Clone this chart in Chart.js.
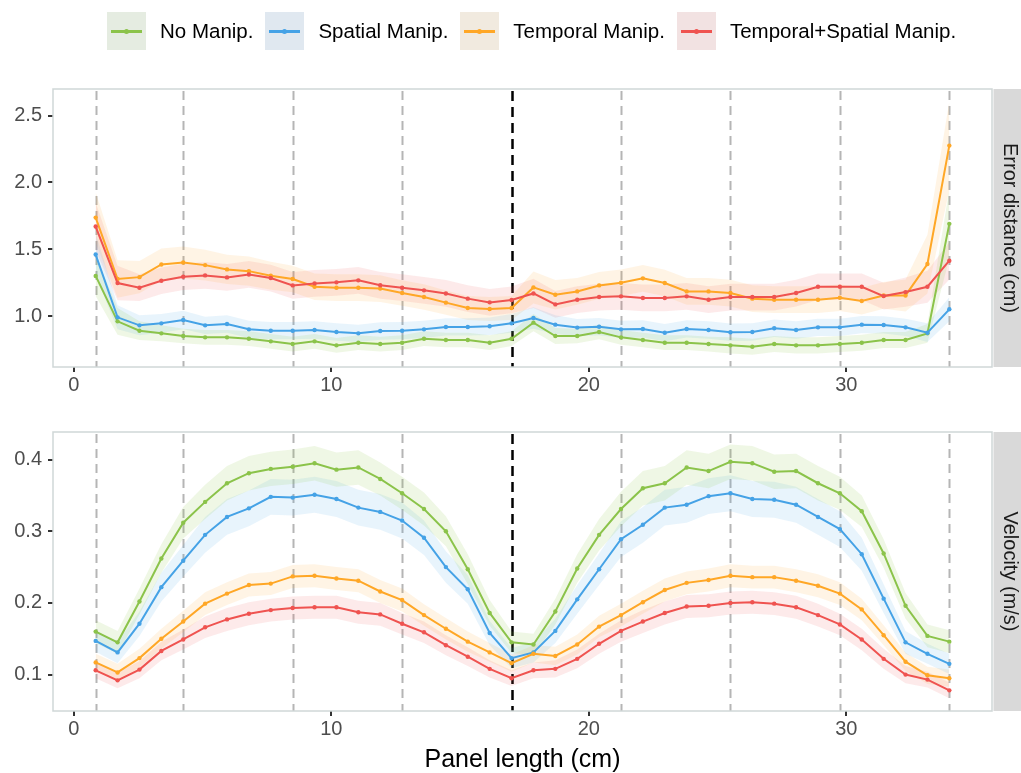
<!DOCTYPE html>
<html>
<head>
<meta charset="utf-8">
<script src="https://cdn.jsdelivr.net/npm/chart.js@4.4.1/dist/chart.umd.min.js"></script>
<style>
  body { margin: 0; background: #fff; }
  #wrap { position: relative; width: 1021px; height: 773px; overflow: hidden; background: #fff;
          font-family: "Liberation Sans", Arial, sans-serif; }
  #c1 { position: absolute; left: 0; top: 0; }
  #c2 { position: absolute; left: 0; top: 400px; }
  #legend { position: absolute; left: 107px; top: 12px; height: 38px; display: flex; align-items: center; }
  .item { display: flex; align-items: center; margin-right: 12px; }
  .key { position: relative; width: 39px; height: 38px; margin-right: 14px; }
  .key .ln { position: absolute; left: 4px; right: 4px; top: 18px; height: 2.5px; }
  .key .dot { position: absolute; left: 17px; top: 17px; width: 5px; height: 5px; border-radius: 50%; }
  .lab { font-size: 20.5px; color: #000; white-space: nowrap; }
</style>
</head>
<body>
<div id="wrap">
  <canvas id="c1" width="1021" height="400"></canvas>
  <canvas id="c2" width="1021" height="373"></canvas>
  <div id="legend"></div>
</div>
<script>
// Sampling positions along the panel (cm)
const positions = [0.85, 1.70, 2.55, 3.40, 4.25, 5.10, 5.95, 6.80, 7.65, 8.50,
                   9.35, 10.20, 11.05, 11.90, 12.75, 13.60, 14.45, 15.30, 16.15, 17.00,
                   17.85, 18.70, 19.55, 20.40, 21.25, 22.10, 22.95, 23.80, 24.65, 25.50,
                   26.35, 27.20, 28.05, 28.90, 29.75, 30.60, 31.45, 32.30, 33.15, 34.00];

const conditions = ["No Manip.", "Spatial Manip.", "Temporal Manip.", "Temporal+Spatial Manip."];
const lineColors = ["#8BC34A", "#45A2E6", "#FFA726", "#EF5350"];
const bandColors = ["rgba(139,195,74,0.14)", "rgba(69,162,230,0.12)", "rgba(255,167,38,0.12)", "rgba(239,83,80,0.12)"];
const keyColors  = ["#e5ece1", "#e0e8f0", "#f1eadf", "#f2e2e2"];

const facetLabels = ["Error distance (cm)", "Velocity (m/s)"];
const xAxisTitle = "Panel length (cm)";
const xTickValues = [0, 10, 20, 30];
const errTickValues = [1.0, 1.5, 2.0, 2.5];
const velTickValues = [0.1, 0.2, 0.3, 0.4];
const guideMarks = [0.85, 4.25, 8.5, 12.75, 21.25, 25.5, 29.75, 34.0];
const midMark = [17.0];

// Error distance (cm), mean per position
const errNoManip = [1.30, 0.96, 0.89, 0.87, 0.85, 0.84, 0.84, 0.83, 0.81, 0.79,
                    0.81, 0.78, 0.80, 0.79, 0.80, 0.83, 0.82, 0.82, 0.80, 0.83,
                    0.95, 0.85, 0.85, 0.88, 0.84, 0.82, 0.80, 0.80, 0.79, 0.78,
                    0.77, 0.79, 0.78, 0.78, 0.79, 0.80, 0.82, 0.82, 0.87, 1.69];
const errSpatial = [1.46, 0.99, 0.93, 0.945, 0.97, 0.93, 0.94, 0.90, 0.89, 0.89,
                    0.895, 0.88, 0.87, 0.888, 0.89, 0.90, 0.918, 0.918, 0.923, 0.945,
                    0.985, 0.935, 0.913, 0.92, 0.90, 0.903, 0.875, 0.903, 0.895, 0.878,
                    0.88, 0.908, 0.895, 0.915, 0.915, 0.935, 0.933, 0.915, 0.875, 1.05];
const errTemporal = [1.737, 1.277, 1.291, 1.386, 1.401, 1.381, 1.349, 1.336, 1.301, 1.277,
                     1.219, 1.212, 1.212, 1.205, 1.172, 1.142, 1.100, 1.060, 1.052, 1.060,
                     1.214, 1.159, 1.184, 1.229, 1.249, 1.282, 1.247, 1.184, 1.184, 1.172,
                     1.130, 1.122, 1.122, 1.122, 1.137, 1.112, 1.154, 1.154, 1.389, 2.276];
const errBoth = [1.670, 1.247, 1.212, 1.264, 1.294, 1.304, 1.289, 1.311, 1.284, 1.229,
                 1.244, 1.252, 1.267, 1.230, 1.212, 1.192, 1.169, 1.130, 1.102, 1.120,
                 1.169, 1.087, 1.122, 1.142, 1.147, 1.135, 1.135, 1.147, 1.122, 1.142,
                 1.142, 1.142, 1.172, 1.219, 1.219, 1.219, 1.149, 1.179, 1.219, 1.414];

// Error distance, half-width of the confidence band
const errNoManipCI = [0.15, 0.10, 0.07, 0.06, 0.055, 0.055, 0.055, 0.055, 0.055, 0.055,
                      0.055, 0.055, 0.055, 0.055, 0.055, 0.055, 0.055, 0.055, 0.055, 0.055,
                      0.065, 0.06, 0.055, 0.055, 0.055, 0.055, 0.055, 0.055, 0.055, 0.06,
                      0.06, 0.06, 0.06, 0.06, 0.06, 0.06, 0.06, 0.06, 0.07, 0.26];
const errSpatialCI = [0.16, 0.09, 0.075, 0.07, 0.07, 0.065, 0.065, 0.065, 0.065, 0.065,
                      0.065, 0.065, 0.065, 0.065, 0.065, 0.065, 0.065, 0.065, 0.065, 0.07,
                      0.08, 0.07, 0.065, 0.065, 0.065, 0.065, 0.065, 0.065, 0.065, 0.065,
                      0.065, 0.065, 0.065, 0.065, 0.065, 0.065, 0.065, 0.065, 0.07, 0.09];
const errTemporalCI = [0.19, 0.14, 0.12, 0.12, 0.12, 0.115, 0.11, 0.11, 0.105, 0.10,
                       0.10, 0.10, 0.10, 0.10, 0.095, 0.095, 0.09, 0.09, 0.09, 0.09,
                       0.12, 0.11, 0.10, 0.10, 0.10, 0.10, 0.10, 0.10, 0.10, 0.10,
                       0.10, 0.10, 0.10, 0.10, 0.10, 0.10, 0.10, 0.12, 0.22, 0.33];
const errBothCI = [0.18, 0.13, 0.10, 0.10, 0.10, 0.10, 0.10, 0.10, 0.10, 0.10,
                   0.10, 0.10, 0.10, 0.10, 0.10, 0.10, 0.10, 0.10, 0.10, 0.10,
                   0.11, 0.10, 0.10, 0.10, 0.10, 0.10, 0.10, 0.10, 0.10, 0.10,
                   0.10, 0.10, 0.10, 0.10, 0.10, 0.10, 0.10, 0.11, 0.12, 0.14];

// Velocity (m/s), mean per position
const velNoManip = [0.160, 0.145, 0.202, 0.262, 0.312, 0.341, 0.367, 0.381, 0.387, 0.390,
                    0.395, 0.386, 0.389, 0.373, 0.353, 0.331, 0.300, 0.247, 0.186, 0.145,
                    0.142, 0.188, 0.248, 0.295, 0.331, 0.360, 0.367, 0.389, 0.384, 0.397,
                    0.395, 0.383, 0.384, 0.367, 0.353, 0.328, 0.269, 0.196, 0.154, 0.146];
const velSpatial = [0.147, 0.131, 0.171, 0.222, 0.259, 0.295, 0.320, 0.332, 0.348, 0.347,
                    0.351, 0.345, 0.333, 0.327, 0.315, 0.291, 0.250, 0.219, 0.158, 0.123,
                    0.131, 0.161, 0.205, 0.247, 0.289, 0.309, 0.333, 0.337, 0.349, 0.353,
                    0.345, 0.344, 0.337, 0.320, 0.303, 0.268, 0.206, 0.145, 0.129, 0.115];
const velTemporal = [0.117, 0.103, 0.123, 0.150, 0.174, 0.199, 0.213, 0.225, 0.227, 0.237,
                     0.238, 0.234, 0.231, 0.216, 0.204, 0.183, 0.164, 0.146, 0.131, 0.116,
                     0.129, 0.126, 0.142, 0.167, 0.183, 0.201, 0.218, 0.228, 0.232, 0.238,
                     0.236, 0.236, 0.231, 0.224, 0.213, 0.191, 0.155, 0.118, 0.099, 0.095];
const velBoth = [0.106, 0.092, 0.107, 0.133, 0.149, 0.166, 0.177, 0.185, 0.190, 0.193,
                 0.194, 0.194, 0.187, 0.184, 0.171, 0.159, 0.141, 0.125, 0.108, 0.095,
                 0.106, 0.108, 0.122, 0.143, 0.161, 0.174, 0.186, 0.195, 0.196, 0.200,
                 0.201, 0.199, 0.194, 0.183, 0.170, 0.149, 0.122, 0.100, 0.093, 0.078];

// Velocity, half-width of the confidence band
const velNoManipCI = [0.016, 0.016, 0.018, 0.020, 0.022, 0.024, 0.024, 0.024, 0.024, 0.024,
                      0.024, 0.024, 0.024, 0.023, 0.023, 0.023, 0.021, 0.021, 0.018, 0.015,
                      0.015, 0.018, 0.020, 0.022, 0.024, 0.024, 0.024, 0.024, 0.024, 0.024,
                      0.024, 0.024, 0.024, 0.024, 0.023, 0.022, 0.020, 0.018, 0.016, 0.016];
const velSpatialCI = [0.015, 0.015, 0.017, 0.020, 0.022, 0.025, 0.025, 0.025, 0.025, 0.025,
                      0.025, 0.025, 0.025, 0.025, 0.025, 0.024, 0.022, 0.020, 0.017, 0.014,
                      0.014, 0.017, 0.020, 0.022, 0.025, 0.025, 0.025, 0.025, 0.025, 0.025,
                      0.025, 0.025, 0.025, 0.025, 0.025, 0.023, 0.020, 0.016, 0.014, 0.014];
const velTemporalCI = [0.012, 0.012, 0.013, 0.014, 0.015, 0.016, 0.016, 0.016, 0.016, 0.016,
                       0.016, 0.016, 0.016, 0.016, 0.016, 0.015, 0.015, 0.014, 0.013, 0.012,
                       0.012, 0.013, 0.014, 0.015, 0.016, 0.016, 0.016, 0.016, 0.016, 0.016,
                       0.016, 0.016, 0.016, 0.016, 0.016, 0.015, 0.014, 0.013, 0.012, 0.012];
const velBothCI = [0.011, 0.011, 0.012, 0.013, 0.014, 0.015, 0.016, 0.016, 0.016, 0.016,
                   0.016, 0.016, 0.016, 0.016, 0.015, 0.015, 0.014, 0.013, 0.012, 0.011,
                   0.011, 0.012, 0.013, 0.014, 0.015, 0.016, 0.016, 0.016, 0.016, 0.016,
                   0.016, 0.016, 0.016, 0.016, 0.015, 0.015, 0.014, 0.012, 0.011, 0.011];

const FONT = '"Liberation Sans", Arial, sans-serif';

// Legend row
const legendEl = document.getElementById('legend');
conditions.forEach((name, i) => {
  const item = document.createElement('div');
  item.className = 'item';
  item.innerHTML = '<div class="key" style="background:' + keyColors[i] + '">' +
    '<div class="ln" style="background:' + lineColors[i] + '"></div>' +
    '<div class="dot" style="background:' + lineColors[i] + '"></div></div>' +
    '<span class="lab">' + name + '</span>';
  legendEl.appendChild(item);
});

// Guide lines, panel frame and the facet strip
const facetDecor = {
  id: 'facetDecor',
  beforeDatasetsDraw(chart, args, opts) {
    const { ctx, chartArea: a, scales: { x } } = chart;
    ctx.save();
    ctx.lineWidth = 2;
    ctx.strokeStyle = '#b5b5b5';
    ctx.setLineDash([9, 6]);
    guideMarks.forEach(p => {
      const px = Math.round(x.getPixelForValue(p)) + 0.5;
      ctx.beginPath(); ctx.moveTo(px, a.top + 2); ctx.lineTo(px, a.bottom); ctx.stroke();
    });
    ctx.strokeStyle = '#000';
    ctx.lineWidth = 2.5;
    ctx.setLineDash([10, 6]);
    midMark.forEach(p => {
      const px = Math.round(x.getPixelForValue(p)) + 0.5;
      ctx.beginPath(); ctx.moveTo(px, a.top + 2); ctx.lineTo(px, a.bottom); ctx.stroke();
    });
    ctx.setLineDash([]);
    ctx.strokeStyle = '#d0d7d7';
    ctx.lineWidth = 1.5;
    ctx.strokeRect(a.left, a.top, a.right - a.left, a.bottom - a.top);
    ctx.restore();
  },
  afterDraw(chart, args, opts) {
    const { ctx, chartArea: a } = chart;
    ctx.save();
    ctx.fillStyle = '#d9d9d9';
    ctx.fillRect(a.right + 1.5, a.top, chart.width - a.right, a.bottom - a.top);
    ctx.translate(a.right + 18, (a.top + a.bottom) / 2);
    ctx.rotate(Math.PI / 2);
    ctx.fillStyle = '#1a1a1a';
    ctx.font = '20px ' + FONT;
    ctx.textAlign = 'center';
    ctx.textBaseline = 'middle';
    ctx.fillText(opts.label, 0, 0);
    ctx.restore();
  }
};

function buildPanel(canvasId, cfg) {
  const datasets = [];
  cfg.means.forEach((m, i) => {
    const hw = cfg.halfWidths[i];
    datasets.push({
      data: positions.map((x, j) => ({ x, y: m[j] + hw[j] })),
      fill: '+1', backgroundColor: bandColors[i], borderWidth: 0, pointRadius: 0, order: 10
    });
    datasets.push({
      data: positions.map((x, j) => ({ x, y: m[j] - hw[j] })),
      fill: false, borderWidth: 0, pointRadius: 0, order: 10
    });
  });
  cfg.means.forEach((m, i) => {
    datasets.push({
      label: conditions[i],
      data: positions.map((x, j) => ({ x, y: m[j] })),
      borderColor: lineColors[i], backgroundColor: lineColors[i],
      borderWidth: 2, pointRadius: 2.2, pointBorderWidth: 0, fill: false,
      order: 4 - i
    });
  });

  return new Chart(document.getElementById(canvasId), {
    type: 'line',
    data: { datasets },
    options: {
      responsive: false, animation: false, events: [],
      elements: { line: { tension: 0 } },
      layout: { padding: { left: 0, right: 29, top: cfg.padTop, bottom: 0 } },
      plugins: { legend: { display: false }, tooltip: { enabled: false }, facetDecor: { label: cfg.label } },
      scales: {
        x: {
          type: 'linear', min: -0.8075, max: 35.6575,
          afterBuildTicks: s => { s.ticks = xTickValues.map(v => ({ value: v })); },
          afterFit: s => { s.height = cfg.xHeight; },
          ticks: { font: { size: 20, family: FONT }, color: '#4d4d4d', padding: 1, maxRotation: 0, autoSkip: false,
                   callback: v => String(v) },
          grid: { drawOnChartArea: false, drawTicks: true, tickLength: 5, color: '#333', lineWidth: 2 },
          border: { display: false },
          title: cfg.xTitle ? { display: true, text: cfg.xTitle, color: '#000',
                                font: { size: 25, family: FONT, lineHeight: 1 }, padding: { top: 0, bottom: 0 } }
                            : { display: false }
        },
        y: {
          type: 'linear', min: cfg.yMin, max: cfg.yMax,
          afterBuildTicks: s => { s.ticks = cfg.yTicks.map(v => ({ value: v })); },
          afterFit: s => { s.width = 53; },
          ticks: { font: { size: 20, family: FONT }, color: '#4d4d4d', padding: 6, callback: v => v.toFixed(1) },
          grid: { drawOnChartArea: false, drawTicks: true, tickLength: 5, color: '#333', lineWidth: 2 },
          border: { display: false }
        }
      }
    },
    plugins: [facetDecor]
  });
}

buildPanel('c1', {
  means: [errNoManip, errSpatial, errTemporal, errBoth],
  halfWidths: [errNoManipCI, errSpatialCI, errTemporalCI, errBothCI],
  yMin: 0.618, yMax: 2.70, yTicks: errTickValues,
  padTop: 89, xHeight: 33, label: facetLabels[0], xTitle: null
});

buildPanel('c2', {
  means: [velNoManip, velSpatial, velTemporal, velBoth],
  halfWidths: [velNoManipCI, velSpatialCI, velTemporalCI, velBothCI],
  yMin: 0.0492, yMax: 0.4385, yTicks: velTickValues,
  padTop: 32, xHeight: 62, label: facetLabels[1], xTitle: xAxisTitle
});
</script>
</body>
</html>
